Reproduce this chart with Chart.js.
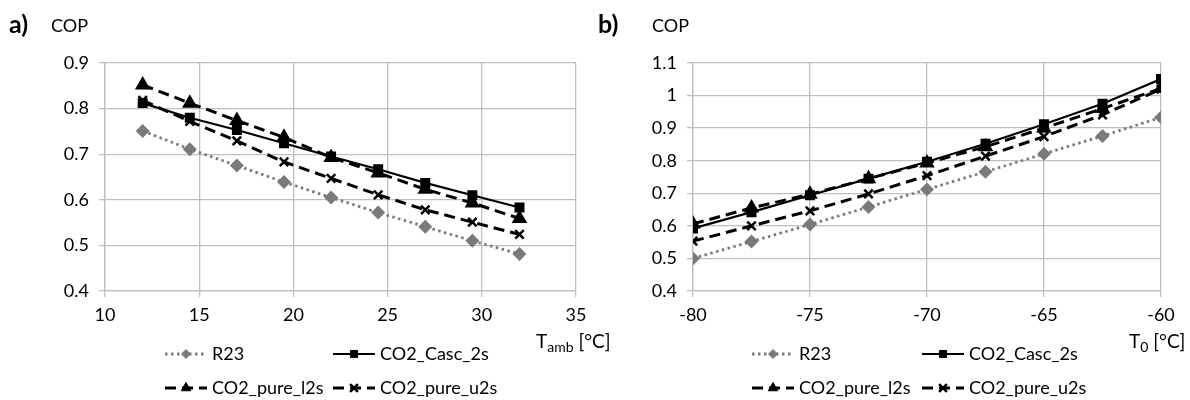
<!DOCTYPE html>
<html lang="en">
<head>
  <meta charset="UTF-8">
  <title>COP comparison</title>
  <script src="https://cdn.jsdelivr.net/npm/chart.js@4.4.1/dist/chart.umd.min.js"></script>
  <style>
    body { margin: 0; background: #fff; }
    .wrap { position: relative; width: 1190px; height: 400px; }
    #chartA { position: absolute; left: 0; top: 0; }
    #chartB { position: absolute; left: 590px; top: 0; }
  </style>
</head>
<body>
  <div class="wrap">
    <canvas id="chartA" width="615" height="400"></canvas>
    <canvas id="chartB" width="600" height="400"></canvas>
  </div>

  <script>
    // a) COP over ambient temperature
    const tAmb = [12, 14.5, 17, 19.5, 22, 24.5, 27, 29.5, 32];
    const copA_R23 = [0.751, 0.711, 0.675, 0.639, 0.605, 0.572, 0.541, 0.51, 0.481];
    const copA_casc = [0.812, 0.780, 0.753, 0.724, 0.695, 0.667, 0.637, 0.610, 0.583];
    const copA_l2s = [0.852, 0.812, 0.774, 0.737, 0.693, 0.659, 0.623, 0.593, 0.559];
    const copA_u2s = [0.818, 0.772, 0.729, 0.683, 0.647, 0.611, 0.578, 0.551, 0.524];

    // b) COP over evaporation temperature
    const tZero = [-80, -77.5, -75, -72.5, -70, -67.5, -65, -62.5, -60];
    const copB_R23 = [0.500, 0.552, 0.604, 0.658, 0.712, 0.766, 0.821, 0.876, 0.933];
    const copB_casc = [0.592, 0.642, 0.694, 0.745, 0.797, 0.852, 0.912, 0.975, 1.051];
    const copB_l2s = [0.606, 0.655, 0.697, 0.745, 0.793, 0.843, 0.900, 0.960, 1.022];
    const copB_u2s = [0.553, 0.600, 0.646, 0.698, 0.754, 0.814, 0.874, 0.941, 1.020];

    const seriesNames = ['R23', 'CO2_Casc_2s', 'CO2_pure_l2s', 'CO2_pure_u2s'];

    const FONT = 'Lato, "Open Sans", sans-serif';

    function pts(xs, ys) {
      return xs.map((x, i) => ({ x: x, y: ys[i] }));
    }

    function makeDatasets(xs, r23, casc, l2s, u2s) {
      return [
        { label: seriesNames[0], data: pts(xs, r23), borderColor: '#7a7a7a', backgroundColor: '#7a7a7a',
          borderWidth: 2.8, borderDash: [2.5, 3.5], pointStyle: 'rectRot', pointRadius: 5 },
        { label: seriesNames[1], data: pts(xs, casc), borderColor: '#000', backgroundColor: '#000',
          borderWidth: 2.2, borderDash: [], pointStyle: 'rect', pointRadius: 5.5 },
        { label: seriesNames[2], data: pts(xs, l2s), borderColor: '#000', backgroundColor: '#000',
          borderWidth: 3, borderDash: [11, 6], pointStyle: 'triangle', pointRadius: 6 },
        { label: seriesNames[3], data: pts(xs, u2s), borderColor: '#000', backgroundColor: '#000',
          borderWidth: 3, borderDash: [11, 6], pointStyle: 'crossRot', pointRadius: 6, pointBorderWidth: 2.5 }
      ];
    }

    // draws panel letter, COP label, axis title and the excel-like legend
    const decorPlugin = {
      id: 'decor',
      afterDraw(chart, args, opts) {
        const ctx = chart.ctx;
        ctx.save();
        ctx.fillStyle = '#000';
        ctx.textBaseline = 'middle';
        ctx.textAlign = 'left';
        ctx.font = 'bold 25px ' + FONT;
        ctx.fillText(opts.letter, opts.letterX, 25);
        ctx.font = '18px ' + FONT;
        ctx.fillText('COP', opts.copX, 26);

        // axis title with subscript
        let x = opts.titleX;
        const y = 342;
        ctx.font = '19px ' + FONT;
        ctx.fillText('T', x, y);
        x += ctx.measureText('T').width;
        ctx.font = '14px ' + FONT;
        ctx.fillText(opts.sub, x, y + 5);
        x += ctx.measureText(opts.sub).width;
        ctx.font = '19px ' + FONT;
        ctx.fillText(' [°C]', x, y);

        // legend
        const cols = opts.legendCols;
        const rows = [354, 388];
        chart.data.datasets.forEach((ds, i) => {
          const lx = cols[i % 2];
          const ly = rows[Math.floor(i / 2)];
          ctx.save();
          ctx.strokeStyle = ds.borderColor;
          ctx.fillStyle = ds.backgroundColor;
          ctx.lineWidth = ds.borderWidth;
          ctx.setLineDash(ds.borderDash || []);
          ctx.beginPath();
          ctx.moveTo(lx, ly);
          ctx.lineTo(lx + 42, ly);
          ctx.stroke();
          ctx.setLineDash([]);
          ctx.lineWidth = ds.pointBorderWidth || 1;
          Chart.helpers.drawPoint(ctx, {
            pointStyle: ds.pointStyle, radius: ds.pointRadius - 0.5,
            borderWidth: ds.pointBorderWidth || 1, rotation: 0
          }, lx + 21, ly);
          ctx.restore();
          ctx.font = '18px ' + FONT;
          ctx.fillStyle = '#000';
          ctx.fillText(ds.label, lx + 47, ly);
        });
        ctx.restore();
      }
    };

    function makeChart(id, cfg) {
      const ctx = document.getElementById(id).getContext('2d');
      return new Chart(ctx, {
        type: 'line',
        data: { datasets: cfg.datasets },
        plugins: [decorPlugin],
        options: {
          responsive: false,
          animation: false,
          layout: { padding: { top: 63, right: cfg.padRight, left: 0, bottom: 0 } },
          elements: { line: { tension: 0 } },
          plugins: {
            legend: { display: false },
            tooltip: { enabled: false },
            decor: cfg.decor
          },
          scales: {
            x: {
              type: 'linear',
              min: cfg.xMin, max: cfg.xMax,
              afterFit: s => { s.height = 109; },
              ticks: { stepSize: 5, padding: 7, color: '#000', font: { family: FONT, size: 18 } },
              grid: { color: '#bfbfbf', tickLength: 6, lineWidth: 1.3 },
              border: { color: '#bfbfbf', width: 1.3 }
            },
            y: {
              min: cfg.yMin, max: cfg.yMax,
              afterFit: s => { s.width = cfg.yWidth; },
              ticks: {
                stepSize: 0.1, padding: 10, color: '#000', font: { family: FONT, size: 18 },
                callback: v => String(Number(v.toFixed(1)))
              },
              grid: { color: '#bfbfbf', tickLength: 6, lineWidth: 1.3 },
              border: { color: '#bfbfbf', width: 1.3 }
            }
          }
        }
      });
    }

    makeChart('chartA', {
      datasets: makeDatasets(tAmb, copA_R23, copA_casc, copA_l2s, copA_u2s),
      xMin: 10, xMax: 35, yMin: 0.4, yMax: 0.9,
      yWidth: 105, padRight: 39,
      decor: { letter: 'a)', letterX: 9, copX: 51, titleX: 536, sub: 'amb', legendCols: [165, 333] }
    });

    makeChart('chartB', {
      datasets: makeDatasets(tZero, copB_R23, copB_casc, copB_l2s, copB_u2s),
      xMin: -80, xMax: -60, yMin: 0.4, yMax: 1.1,
      yWidth: 103, padRight: 29,
      decor: { letter: 'b)', letterX: 8, copX: 62, titleX: 539, sub: '0', legendCols: [162, 332] }
    });
  </script>
</body>
</html>
